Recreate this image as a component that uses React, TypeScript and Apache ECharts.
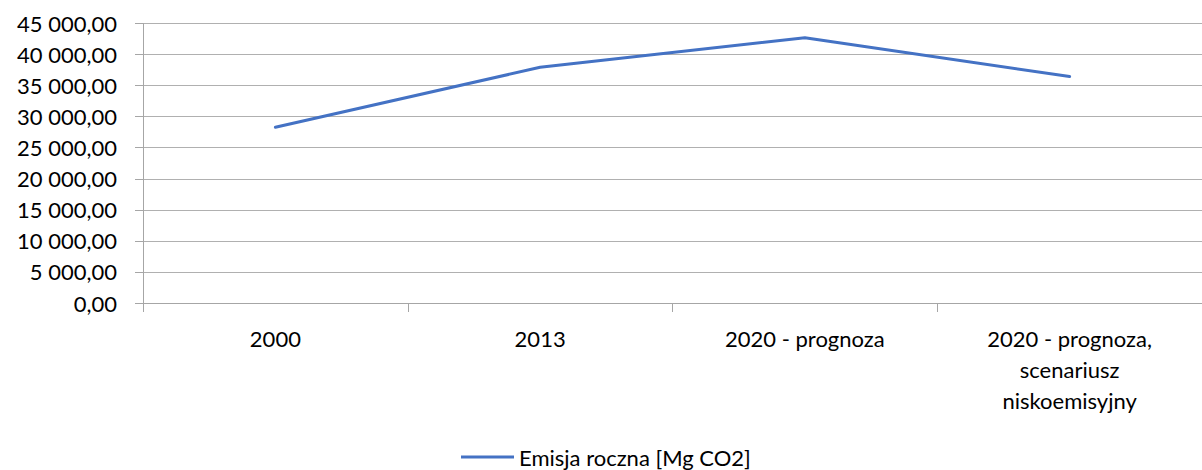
import React, { useEffect, useRef } from "react";
import * as echarts from "echarts";

const categories = ["2000", "2013", "2020 - prognoza", "2020 - prognoza, scenariusz niskoemisyjny"];
const seriesName = "Emisja roczna [Mg CO2]";
const emissionValues = [28300, 37950, 42700, 36450];
const yMin = 0;
const yMax = 45000;
const yInterval = 5000;

function formatPl(v: number): string {
  const fixed = v.toFixed(2);
  const [intPart, dec] = fixed.split(".");
  const withSpaces = intPart.replace(/\B(?=(\d{3})+(?!\d))/g, " ");
  return withSpaces + "," + dec;
}

function wrapCategory(v: string): string {
  return v.replace(", ", ",\n").replace("scenariusz ", "scenariusz\n");
}

export default function App() {
  const ref = useRef<HTMLDivElement>(null);
  useEffect(() => {
    if (!ref.current) return;
    const chart = echarts.init(ref.current, undefined, { renderer: "svg" });
    const font = "Lato, 'Open Sans', sans-serif";
    chart.setOption({
      animation: false,
      backgroundColor: "#ffffff",
      textStyle: { fontFamily: font },
      grid: { left: 143, right: -5, top: 23.5, bottom: 167, containLabel: false },
      legend: {
        show: true,
        left: 461,
        top: 444,
        padding: 0,
        icon: "rect",
        itemWidth: 53,
        itemHeight: 3,
        textStyle: { fontFamily: font, fontSize: 22, color: "#000000", lineHeight: 26 },
        data: [seriesName],
      },
      xAxis: {
        type: "category",
        data: categories,
        boundaryGap: true,
        axisLine: { show: true, lineStyle: { color: "#a6a6a6", width: 1 } },
        axisTick: { show: true, length: 9, lineStyle: { color: "#a6a6a6" } },
        axisLabel: {
          interval: 0,
          margin: 20,
          fontFamily: font,
          fontSize: 22,
          lineHeight: 31,
          color: "#000000",
          formatter: (v: string) => wrapCategory(v),
        },
        splitLine: { show: false },
      },
      yAxis: {
        type: "value",
        min: yMin,
        max: yMax,
        interval: yInterval,
        axisLine: { show: true, lineStyle: { color: "#a6a6a6", width: 1 } },
        axisTick: { show: true, length: 8, lineStyle: { color: "#a6a6a6" } },
        axisLabel: {
          margin: 26,
          fontFamily: font,
          fontSize: 22,
          color: "#000000",
          formatter: (v: number) => formatPl(v),
        },
        splitLine: { show: true, lineStyle: { color: "#b0b0b0", width: 1 } },
      },
      series: [
        {
          name: seriesName,
          type: "line",
          data: emissionValues,
          showSymbol: false,
          symbol: "none",
          lineStyle: { color: "#4472c4", width: 3, cap: "round", join: "round" },
          itemStyle: { color: "#4472c4" },
        },
      ],
    });
    return () => chart.dispose();
  }, []);
  return (
    <div
      ref={ref}
      style={{ position: "absolute", left: 0, top: 0, width: 1202, height: 470 }}
    />
  );
}
